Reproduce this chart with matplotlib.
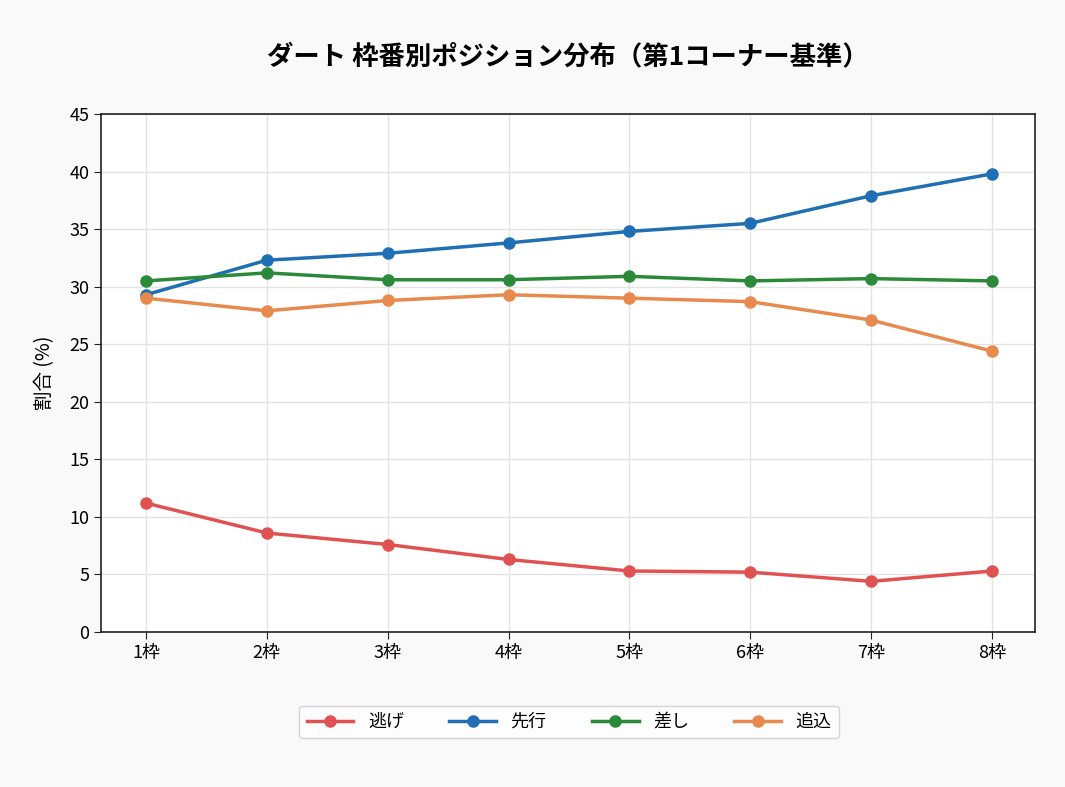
import numpy as np
import matplotlib
matplotlib.use('Agg')
import matplotlib.pyplot as plt

plt.rcParams['font.family'] = ['Noto Sans CJK JP', 'DejaVu Sans']

gates = ['1枠', '2枠', '3枠', '4枠', '5枠', '6枠', '7枠', '8枠']
nige = [11.2, 8.6, 7.6, 6.3, 5.3, 5.2, 4.4, 5.3]
senko = [29.3, 32.3, 32.9, 33.8, 34.8, 35.5, 37.9, 39.8]
sashi = [30.5, 31.2, 30.6, 30.6, 30.9, 30.5, 30.7, 30.5]
oikomi = [29.0, 27.9, 28.8, 29.3, 29.0, 28.7, 27.1, 24.4]

series = [('逃げ', nige, '#e05252'),
          ('先行', senko, '#1f6fb4'),
          ('差し', sashi, '#2b8a3a'),
          ('追込', oikomi, '#e8894e')]

fig = plt.figure(figsize=(10.65, 7.87), dpi=100, facecolor='#f9f9f9')
ax = fig.add_axes([101/1065, 1 - 632/787, 934/1065, 518/787])
ax.set_facecolor('white')

x = np.arange(len(gates))
for name, vals, col in series:
    ax.plot(x, vals, marker='o', color=col, linewidth=2.5, markersize=8, label=name)

ax.set_xticks(x)
ax.set_xticklabels(gates)
ax.set_xlim(-0.372, 7.356)
ax.set_ylim(0, 45)
ax.set_yticks(np.arange(0, 46, 5))
ax.tick_params(labelsize=13, length=5, color='#222222')
ax.grid(True, color='#e3e3e3', linewidth=1)
ax.set_axisbelow(True)
for s in ax.spines.values():
    s.set_color('#222222')
    s.set_linewidth(1.2)

ax.set_ylabel('割合 (%)', fontsize=14, labelpad=10)
fig.text(568/1065, 1 - 57/787, 'ダート 枠番別ポジション分布（第1コーナー基準）',
         fontsize=19, fontweight='bold', ha='center', va='center')

fig.legend(loc='center', bbox_to_anchor=(569/1065, 1 - 722/787), ncol=4, fontsize=13,
           frameon=True, edgecolor='#cccccc', fancybox=True, columnspacing=2.5, handlelength=2.6)

fig.savefig('out.png', dpi=100, facecolor=fig.get_facecolor())
